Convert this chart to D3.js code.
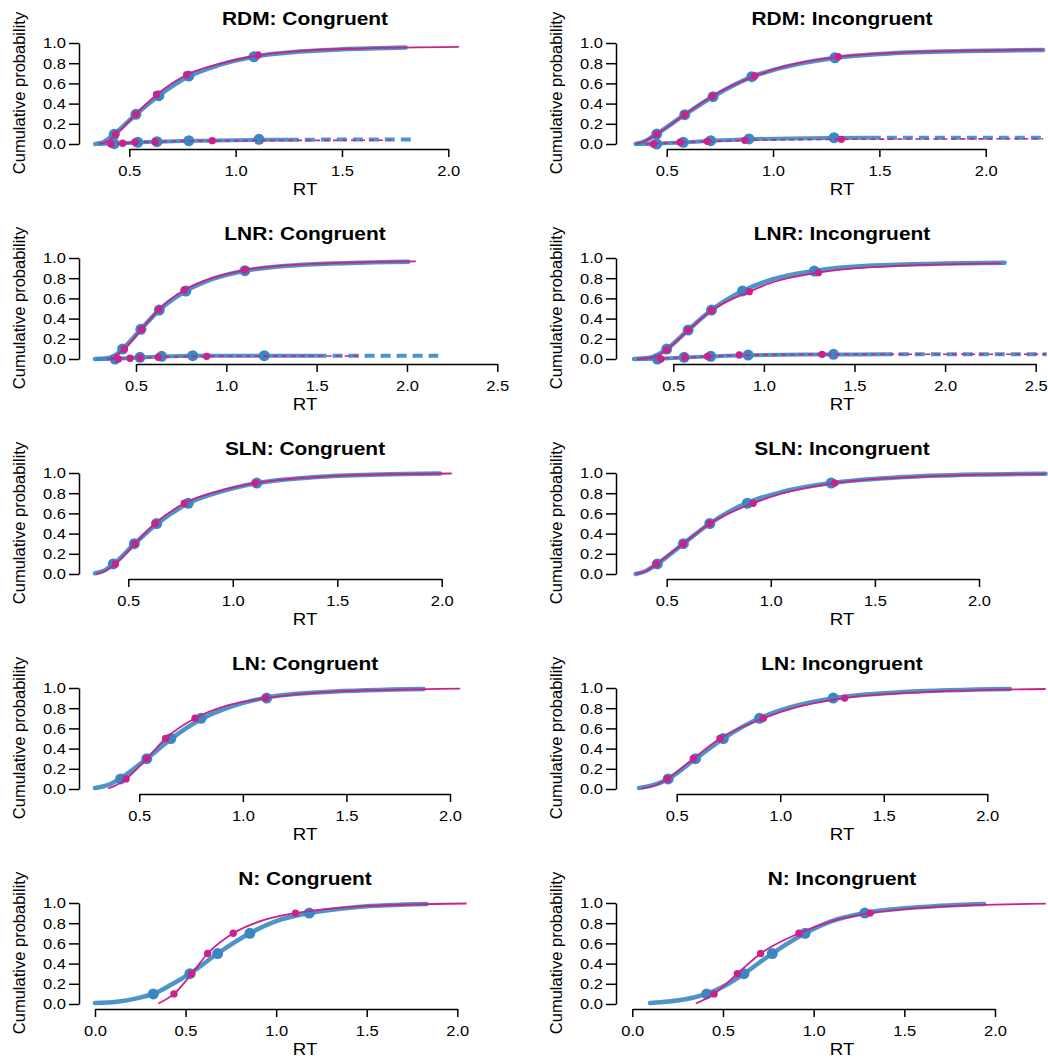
<!DOCTYPE html>
<html>
<head>
<meta charset="utf-8">
<script src="https://cdn.jsdelivr.net/npm/d3@7"></script>
<style>
body { margin: 0; background: #fff; }
text { font-family: "Liberation Sans", Arial, Helvetica, sans-serif; fill: #000; }
</style>
</head>
<body>
<script>
// ---- data ----
var titles = ["RDM: Congruent", "RDM: Incongruent", "LNR: Congruent", "LNR: Incongruent",
    "SLN: Congruent", "SLN: Incongruent", "LN: Congruent", "LN: Incongruent",
    "N: Congruent", "N: Incongruent"];

var xTicks = [
    [0.5, 1.0, 1.5, 2.0], [0.5, 1.0, 1.5, 2.0],
    [0.5, 1.0, 1.5, 2.0, 2.5], [0.5, 1.0, 1.5, 2.0, 2.5],
    [0.5, 1.0, 1.5, 2.0], [0.5, 1.0, 1.5, 2.0],
    [0.5, 1.0, 1.5, 2.0], [0.5, 1.0, 1.5, 2.0],
    [0.0, 0.5, 1.0, 1.5, 2.0], [0.0, 0.5, 1.0, 1.5, 2.0]];
var yTicks = [0, 0.2, 0.4, 0.6, 0.8, 1.0];

// correct-response cumulative curves [RT, prob]
var blueCurve = [
    [[0.34,0.0],[0.38,0.02],[0.43,0.10],[0.53,0.29],[0.64,0.48],[0.78,0.67],[0.92,0.78],[1.09,0.865],[1.3,0.915],[1.5,0.937],[1.8,0.955]],
    [[0.354,0.0],[0.40,0.03],[0.453,0.10],[0.585,0.29],[0.718,0.47],[0.90,0.665],[1.05,0.76],[1.29,0.852],[1.5,0.89],[1.8,0.915],[2.27,0.93]],
    [[0.273,0.0],[0.33,0.005],[0.38,0.03],[0.426,0.099],[0.527,0.294],[0.629,0.485],[0.776,0.673],[0.92,0.79],[1.103,0.874],[1.4,0.93],[2.007,0.963]],
    [[0.283,0.0],[0.36,0.01],[0.41,0.04],[0.464,0.099],[0.582,0.287],[0.711,0.485],[0.882,0.673],[1.05,0.79],[1.278,0.871],[1.6,0.925],[2.328,0.954]],
    [[0.341,0.007],[0.38,0.03],[0.428,0.096],[0.529,0.297],[0.636,0.495],[0.787,0.70],[0.95,0.82],[1.115,0.9],[1.4,0.96],[1.7,0.985],[1.992,0.995]],
    [[0.351,0.0],[0.40,0.03],[0.455,0.1],[0.58,0.3],[0.707,0.5],[0.887,0.705],[1.05,0.81],[1.29,0.9],[1.6,0.955],[2.0,0.985],[2.32,0.993]],
    [[0.286,0.01],[0.35,0.04],[0.41,0.105],[0.536,0.3],[0.652,0.494],[0.798,0.69],[0.95,0.82],[1.115,0.905],[1.4,0.96],[1.872,0.99]],
    [[0.318,0.01],[0.39,0.04],[0.459,0.1],[0.591,0.3],[0.725,0.5],[0.90,0.7],[1.05,0.81],[1.256,0.9],[1.6,0.96],[2.109,0.99]],
    [[0.0,0.01],[0.12,0.023],[0.23,0.056],[0.322,0.1],[0.42,0.19],[0.524,0.3],[0.677,0.5],[0.855,0.7],[1.0,0.82],[1.183,0.9],[1.45,0.96],[1.83,0.99]],
    [[0.098,0.01],[0.2,0.025],[0.3,0.05],[0.41,0.1],[0.52,0.19],[0.616,0.3],[0.772,0.5],[0.953,0.7],[1.1,0.82],[1.282,0.9],[1.6,0.96],[1.94,0.99]]];

var pinkCurve = [
    [[0.36,0.0],[0.40,0.03],[0.44,0.10],[0.53,0.295],[0.63,0.49],[0.77,0.685],[0.92,0.79],[1.1,0.875],[1.3,0.92],[1.6,0.947],[2.05,0.962]],
    [[0.354,0.0],[0.40,0.03],[0.453,0.097],[0.585,0.29],[0.715,0.475],[0.914,0.672],[1.05,0.765],[1.306,0.862],[1.5,0.895],[1.8,0.92],[2.27,0.935]],
    [[0.34,0.0],[0.37,0.01],[0.40,0.05],[0.435,0.099],[0.531,0.294],[0.627,0.491],[0.767,0.683],[0.92,0.8],[1.103,0.881],[1.4,0.935],[2.049,0.966]],
    [[0.30,0.0],[0.37,0.01],[0.42,0.04],[0.464,0.092],[0.582,0.285],[0.711,0.48],[0.919,0.667],[1.05,0.76],[1.30,0.855],[1.6,0.91],[2.31,0.947]],
    [[0.345,0.0],[0.39,0.03],[0.438,0.1],[0.532,0.3],[0.628,0.5],[0.768,0.7],[0.95,0.83],[1.107,0.9],[1.4,0.96],[1.7,0.985],[2.048,0.995]],
    [[0.351,0.0],[0.40,0.03],[0.45,0.1],[0.58,0.3],[0.707,0.5],[0.915,0.7],[1.05,0.795],[1.307,0.9],[1.6,0.952],[2.0,0.983],[2.32,0.992]],
    [[0.35,0.005],[0.39,0.04],[0.436,0.1],[0.536,0.3],[0.627,0.5],[0.769,0.7],[0.93,0.83],[1.11,0.9],[1.4,0.96],[2.049,0.993]],
    [[0.33,0.005],[0.40,0.04],[0.455,0.1],[0.58,0.3],[0.709,0.5],[0.918,0.7],[1.08,0.81],[1.311,0.9],[1.7,0.96],[2.282,0.99]],
    [[0.35,0.005],[0.436,0.1],[0.534,0.3],[0.622,0.5],[0.763,0.7],[0.93,0.83],[1.107,0.9],[1.45,0.965],[2.051,0.995]],
    [[0.35,0.005],[0.451,0.1],[0.579,0.3],[0.708,0.5],[0.919,0.7],[1.1,0.82],[1.311,0.9],[1.7,0.965],[2.28,0.993]]];

// quantile points [RT, prob]
var blueQuant = [
    [[0.429,0.096],[0.531,0.294],[0.639,0.478],[0.780,0.673],[1.086,0.864]],
    [[0.453,0.098],[0.585,0.29],[0.718,0.468],[0.90,0.666],[1.291,0.854]],
    [[0.426,0.099],[0.527,0.294],[0.629,0.485],[0.776,0.673],[1.103,0.874]],
    [[0.464,0.099],[0.582,0.287],[0.711,0.485],[0.882,0.673],[1.278,0.871]],
    [[0.428,0.1],[0.529,0.3],[0.636,0.5],[0.787,0.7],[1.115,0.9]],
    [[0.455,0.1],[0.58,0.3],[0.707,0.5],[0.887,0.7],[1.29,0.9]],
    [[0.41,0.1],[0.536,0.3],[0.652,0.5],[0.798,0.7],[1.115,0.9]],
    [[0.459,0.1],[0.591,0.3],[0.725,0.5],[0.90,0.7],[1.256,0.9]],
    [[0.322,0.1],[0.524,0.3],[0.677,0.5],[0.855,0.7],[1.183,0.9]],
    [[0.41,0.1],[0.616,0.3],[0.772,0.5],[0.953,0.7],[1.282,0.9]]];

var pinkQuant = [
    [[0.436,0.096],[0.531,0.294],[0.628,0.49],[0.77,0.686],[1.106,0.881]],
    [[0.453,0.096],[0.585,0.29],[0.715,0.472],[0.914,0.673],[1.306,0.865]],
    [[0.435,0.099],[0.531,0.294],[0.627,0.491],[0.767,0.683],[1.103,0.881]],
    [[0.464,0.09],[0.582,0.285],[0.711,0.48],[0.919,0.667],[1.30,0.855]],
    [[0.438,0.1],[0.532,0.3],[0.628,0.5],[0.768,0.7],[1.107,0.9]],
    [[0.45,0.1],[0.58,0.3],[0.707,0.5],[0.915,0.7],[1.307,0.9]],
    [[0.436,0.1],[0.536,0.3],[0.627,0.5],[0.769,0.7],[1.11,0.9]],
    [[0.455,0.1],[0.58,0.3],[0.709,0.5],[0.918,0.7],[1.311,0.9]],
    [[0.436,0.1],[0.534,0.3],[0.622,0.5],[0.763,0.7],[1.107,0.9]],
    [[0.451,0.1],[0.579,0.3],[0.708,0.5],[0.919,0.7],[1.311,0.9]]];

// error-response curves (only the race models RDM / LNR)
var blueErrSolid = [
    [[0.35,0.0],[0.43,0.004],[0.54,0.016],[0.64,0.023],[0.78,0.031],[1.1,0.04],[1.25,0.042]],
    [[0.36,0.0],[0.453,0.003],[0.578,0.016],[0.707,0.031],[0.887,0.047],[1.287,0.06],[1.46,0.062]],
    [[0.28,0.0],[0.384,0.002],[0.522,0.015],[0.642,0.024],[0.814,0.031],[1.21,0.033],[1.5,0.033]],
    [[0.30,0.0],[0.412,0.002],[0.56,0.015],[0.707,0.026],[0.913,0.038],[1.384,0.045],[1.656,0.046]],
    null, null, null, null, null, null];
var blueErrDash = [
    [[1.25,0.042],[1.5,0.044],[1.83,0.045]],
    [[1.46,0.062],[1.9,0.063],[2.27,0.063]],
    [[1.5,0.033],[1.8,0.033],[2.173,0.033]],
    [[1.656,0.046],[2.1,0.046],[2.56,0.046]],
    null, null, null, null, null, null];
var pinkErr = [
    [[0.40,0.0],[0.47,0.007],[0.53,0.016],[0.62,0.022],[0.89,0.032],[1.2,0.035],[1.73,0.037]],
    [[0.40,0.0],[0.563,0.016],[0.691,0.025],[0.867,0.036],[1.321,0.046],[1.8,0.05],[2.27,0.052]],
    [[0.36,0.0],[0.467,0.007],[0.522,0.013],[0.623,0.018],[0.891,0.026],[1.2,0.028],[1.75,0.03]],
    [[0.40,0.0],[0.564,0.015],[0.689,0.025],[0.864,0.037],[1.321,0.046],[1.9,0.047],[2.56,0.047]],
    null, null, null, null, null, null];
var blueErrQuant = [
    [[0.429,0.003],[0.54,0.017],[0.63,0.023],[0.78,0.033],[1.11,0.046]],
    [[0.453,0.0],[0.578,0.017],[0.707,0.033],[0.887,0.05],[1.287,0.063]],
    [[0.384,0.0],[0.522,0.017],[0.642,0.026],[0.814,0.033],[1.21,0.033]],
    [[0.412,0.0],[0.56,0.017],[0.707,0.026],[0.913,0.039],[1.384,0.046]],
    null, null, null, null, null, null];
var pinkErrQuant = [
    [[0.414,0.0],[0.469,0.007],[0.526,0.017],[0.621,0.023],[0.89,0.033]],
    [[0.437,0.0],[0.563,0.017],[0.691,0.026],[0.867,0.036],[1.321,0.046]],
    [[0.402,0.0],[0.467,0.007],[0.522,0.013],[0.623,0.017],[0.891,0.026]],
    [[0.431,0.0],[0.564,0.017],[0.689,0.026],[0.864,0.039],[1.321,0.046]],
    null, null, null, null, null, null];

// ---- layout ----
var svgWidth = 1048;
var svgHeight = 1059;
var rowStep = 215;
var yAxisX = [79, 616];          // y-axis line per column
var titleX = [305, 842];
var yLabX = [25, 562];
// pixel position of first / last x tick in each panel
var xPix = [[129.3, 448.3], [666.7, 985.7], [136, 497.3], [673.3, 1035.7],
    [128.3, 441.7], [666.7, 979], [139.3, 450], [676.7, 987.3],
    [95, 457.3], [632.3, 995]];

var blue = "#3a88c3";
var pink = "#c9228b";
var sx = 1.1;   // the reference's horizontal text is a little wide

var svg = d3.select("body")
    .append("svg")
    .attr("width", svgWidth)
    .attr("height", svgHeight);

titles.forEach(function(title, i) {
    var row = Math.floor(i / 2), col = i % 2;
    var off = row * rowStep;

    var ticks = xTicks[i];
    var x = d3.scaleLinear()
        .domain([ticks[0], ticks[ticks.length - 1]])
        .range(xPix[i]);
    var y = d3.scaleLinear()
        .domain([0, 1])
        .range([144 + off, 43 + off]);

    var g = svg.append("g");

    // axes
    var leftAxis = d3.axisLeft(y).tickValues(yTicks)
        .tickFormat(d3.format(".1f")).tickSize(10).tickPadding(3).tickSizeOuter(0);
    var bottomAxis = d3.axisBottom(x).tickValues(ticks)
        .tickFormat(d3.format(".1f")).tickSize(8).tickPadding(8).tickSizeOuter(0);

    var ya = g.append("g")
        .attr("transform", `translate(${yAxisX[col]}, 0)`)
        .call(leftAxis);
    var xa = g.append("g")
        .attr("transform", `translate(0, ${149 + off})`)
        .call(bottomAxis);
    [ya, xa].forEach(function(a) {
        a.selectAll("path, line").attr("stroke", "#000").attr("stroke-width", 1.5);
        a.selectAll("text").attr("font-size", 15)
            .attr("font-family", "'Liberation Sans', Arial, sans-serif").attr("fill", "#000")
            .attr("transform", `scale(${sx},1)`);
    });
    ya.selectAll("text").attr("x", -13 / sx);

    // text
    g.append("text")
        .attr("transform", `translate(${titleX[col]}, ${25 + off}) scale(${sx},1)`)
        .attr("text-anchor", "middle")
        .attr("font-size", 19).attr("font-weight", "bold")
        .text(title);
    g.append("text")
        .attr("transform", `translate(${titleX[col]}, ${195 + off}) scale(${sx},1)`)
        .attr("text-anchor", "middle")
        .attr("font-size", 17)
        .text("RT");
    g.append("text")
        .attr("transform", `translate(${yLabX[col]}, ${93 + off}) rotate(-90)`)
        .attr("text-anchor", "middle")
        .attr("font-size", 16.5)
        .text("Cumulative probability");

    var line = d3.line()
        .x(d => x(d[0]))
        .y(d => y(d[1]))
        .curve(d3.curveMonotoneX);

    // blue (thick) series
    if (blueErrSolid[i]) {
        g.append("path").attr("d", line(blueErrSolid[i]))
            .attr("fill", "none").attr("stroke", blue).attr("stroke-width", 4)
            .attr("stroke-opacity", 0.9);
        g.append("path").attr("d", line(blueErrDash[i]))
            .attr("fill", "none").attr("stroke", blue).attr("stroke-width", 4)
            .attr("stroke-dasharray", "10,6").attr("stroke-opacity", 0.9);
    }
    g.append("path").attr("d", line(blueCurve[i]))
        .attr("fill", "none").attr("stroke", blue).attr("stroke-width", 4.5)
        .attr("stroke-opacity", 0.9).attr("stroke-linecap", "round");

    var bq = blueQuant[i].concat(blueErrQuant[i] || []);
    g.selectAll("circle.bq")
        .data(bq)
        .enter()
        .append("circle")
        .classed("bq", true)
        .attr("cx", d => x(d[0]))
        .attr("cy", d => y(d[1]))
        .attr("r", 5.5)
        .attr("fill", blue);

    // pink (thin) series
    if (pinkErr[i]) {
        g.append("path").attr("d", line(pinkErr[i]))
            .attr("fill", "none").attr("stroke", pink).attr("stroke-width", 1.6)
            .attr("stroke-dasharray", "5,4");
    }
    g.append("path").attr("d", line(pinkCurve[i]))
        .attr("fill", "none").attr("stroke", pink).attr("stroke-width", 1.8);

    var pq = pinkQuant[i].concat(pinkErrQuant[i] || []);
    g.selectAll("circle.pq")
        .data(pq)
        .enter()
        .append("circle")
        .classed("pq", true)
        .attr("cx", d => x(d[0]))
        .attr("cy", d => y(d[1]))
        .attr("r", 3.7)
        .attr("fill", pink);
});
</script>
</body>
</html>
